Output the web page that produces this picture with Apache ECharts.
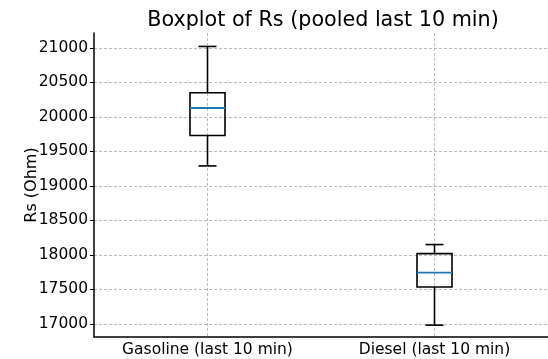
<!DOCTYPE html>
<html>
<head>
<meta charset="utf-8">
<script src="https://cdn.jsdelivr.net/npm/echarts@6/dist/echarts.min.js"></script>
<style>
  html, body { margin: 0; padding: 0; background: #fff; }
  #chart { width: 548px; height: 359px; }
</style>
</head>
<body>
<div id="chart"></div>
<script>
const categories = ['Gasoline (last 10 min)', 'Diesel (last 10 min)']
const whiskerLow = [19290, 16982]
const q1 = [19732, 17534]
const median = [20130, 17743]
const q3 = [20350, 18019]
const whiskerHigh = [21022, 18150]
const yTicks = [17000, 17500, 18000, 18500, 19000, 19500, 20000, 20500, 21000]

const font = 'DejaVu Sans'
const boxData = categories.map((c, i) => [i, whiskerLow[i], q1[i], median[i], q3[i], whiskerHigh[i]])

function renderBox(params, api) {
  const i = api.value(0)
  const lo = api.coord([i, api.value(1)])
  const b1 = api.coord([i, api.value(2)])
  const md = api.coord([i, api.value(3)])
  const b3 = api.coord([i, api.value(4)])
  const hi = api.coord([i, api.value(5)])
  const x = lo[0]
  const half = 17.5
  const cap = 9
  const line = { stroke: '#000', lineWidth: 1.6, fill: null }
  return {
    type: 'group',
    children: [
      { type: 'line', shape: { x1: x, y1: lo[1], x2: x, y2: b1[1] }, style: line },
      { type: 'line', shape: { x1: x, y1: b3[1], x2: x, y2: hi[1] }, style: line },
      { type: 'line', shape: { x1: x - cap, y1: lo[1], x2: x + cap, y2: lo[1] }, style: line },
      { type: 'line', shape: { x1: x - cap, y1: hi[1], x2: x + cap, y2: hi[1] }, style: line },
      { type: 'rect', shape: { x: x - half, y: b3[1], width: half * 2, height: b1[1] - b3[1] }, style: line },
      { type: 'line', shape: { x1: x - half, y1: md[1], x2: x + half, y2: md[1] }, style: { stroke: '#1f77b4', lineWidth: 1.8 } }
    ]
  }
}

const chart = echarts.init(document.getElementById('chart'))
chart.setOption({
  animation: false,
  title: {
    text: 'Boxplot of Rs (pooled last 10 min)',
    left: 318,
    textAlign: 'center',
    top: 5,
    textStyle: { fontFamily: font, fontSize: 20.7, fontWeight: 'normal', color: '#000' }
  },
  grid: { left: 94, right: -7, top: 33, bottom: 22 },
  xAxis: {
    type: 'category',
    data: categories,
    axisLine: { lineStyle: { color: '#000', width: 1.5 } },
    axisTick: { alignWithLabel: true, length: 4, lineStyle: { color: '#000' } },
    axisLabel: { fontFamily: font, fontSize: 15.5, color: '#000', margin: 5 },
    splitLine: { show: true, alignWithLabel: true, lineStyle: { color: '#aaa', type: [3, 2], width: 0.8 } }
  },
  yAxis: {
    type: 'value',
    min: 16810,
    max: 21217,
    name: 'Rs (Ohm)',
    nameLocation: 'middle',
    nameGap: 54,
    nameMoveOverlap: false,
    nameTextStyle: { fontFamily: font, fontSize: 16, color: '#000' },
    axisLine: { show: true, lineStyle: { color: '#000', width: 1.5 } },
    axisTick: { show: true, length: 4, customValues: yTicks, lineStyle: { color: '#000' } },
    axisLabel: { fontFamily: font, fontSize: 15.5, color: '#000', margin: 6, customValues: yTicks, formatter: v => String(v) },
    splitLine: { show: true, lineStyle: { color: '#aaa', type: [3, 2], width: 0.8 } }
  },
  series: [{
    type: 'custom',
    renderItem: renderBox,
    data: boxData,
    encode: { x: 0, y: [1, 2, 3, 4, 5] },
    z: 5
  }]
})
</script>
</body>
</html>
